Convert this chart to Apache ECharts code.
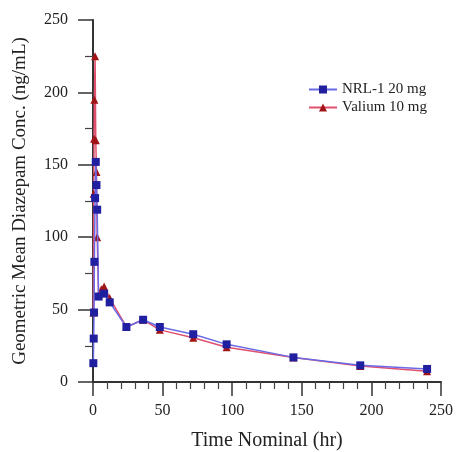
<!DOCTYPE html>
<html>
<head>
<meta charset="utf-8">
<script src="https://cdn.jsdelivr.net/npm/echarts@6/dist/echarts.min.js"></script>
<style>html,body{margin:0;padding:0;background:#fff;}#c{width:456px;height:452px;}</style>
</head>
<body>
<div id="c"></div>
<script>
const nrlTimes = [0.25, 0.5, 0.75, 1, 1.5, 2, 2.5, 3, 4, 8, 12, 24, 36, 48, 72, 96, 144, 192, 240];
const nrlConc  = [13, 30, 48, 83, 127, 152, 136, 119, 59, 61, 55, 38, 43, 38, 33, 26, 17, 11.5, 9];
const valTimes = [0.25, 0.5, 0.75, 1, 1.5, 2, 2.5, 3, 4, 6, 8, 12, 24, 36, 48, 72, 96, 144, 192, 240];
const valConc  = [48, 130, 168, 195, 225, 167, 145, 100, 60, 64, 66, 58, 38, 43, 36, 30.5, 24, 17, 11, 7.5];
const xTicks = [0, 50, 100, 150, 200, 250];
const yTicks = [0, 50, 100, 150, 200, 250];

const serif = '"Liberation Serif", "DejaVu Serif", serif';
const chart = echarts.init(document.getElementById('c'));
chart.setOption({
  animation: false,
  backgroundColor: '#fff',
  grid: {left: 93, right: 15, top: 20, bottom: 70, outerBoundsMode: 'none', containLabel: false},
  legend: {
    orient: 'vertical', left: 303, top: 77, itemWidth: 28, itemHeight: 10, itemGap: 3,
    textStyle: {fontFamily: serif, fontSize: 15, color: '#222'},
    data: ['NRL-1 20 mg', 'Valium 10 mg']
  },
  xAxis: {
    type: 'value', min: xTicks[0], max: xTicks[xTicks.length - 1], interval: 50,
    name: 'Time Nominal (hr)', nameLocation: 'middle', nameGap: 49,
    nameTextStyle: {fontFamily: serif, fontSize: 20, color: '#222'},
    axisLine: {lineStyle: {color: '#333', width: 2}},
    axisTick: {length: 14, lineStyle: {color: '#333', width: 1.5}},
    minorTick: {show: true, splitNumber: 5, length: 7, lineStyle: {color: '#444', width: 1.2}},
    axisLabel: {margin: 21, fontFamily: serif, fontSize: 16, color: '#222'},
    splitLine: {show: false}
  },
  yAxis: {
    type: 'value', min: yTicks[0], max: yTicks[yTicks.length - 1], interval: 50,
    name: 'Geometric Mean Diazepam Conc. (ng/mL)', nameLocation: 'middle', nameGap: 63,
    nameTextStyle: {fontFamily: serif, fontSize: 19, color: '#222'},
    axisLine: {show: true, lineStyle: {color: '#333', width: 2}},
    axisTick: {show: true, length: 15, lineStyle: {color: '#333', width: 1.5}},
    minorTick: {show: true, splitNumber: 2, length: 8, lineStyle: {color: '#444', width: 1.2}},
    axisLabel: {margin: 25, fontFamily: serif, fontSize: 16, color: '#222'},
    splitLine: {show: false}
  },
  series: [
    {
      name: 'NRL-1 20 mg', type: 'line',
      data: nrlTimes.map((t, i) => [t, nrlConc[i]]),
      symbol: 'rect', symbolSize: 8,
      itemStyle: {color: '#1f1fa0'},
      lineStyle: {color: '#6a6ae6', width: 1.5},
      z: 3
    },
    {
      name: 'Valium 10 mg', type: 'line',
      data: valTimes.map((t, i) => [t, valConc[i]]),
      symbol: 'triangle', symbolSize: 8,
      itemStyle: {color: '#a01418'},
      lineStyle: {color: '#e0506e', width: 1.5},
      z: 2
    }
  ]
});
</script>
</body>
</html>
